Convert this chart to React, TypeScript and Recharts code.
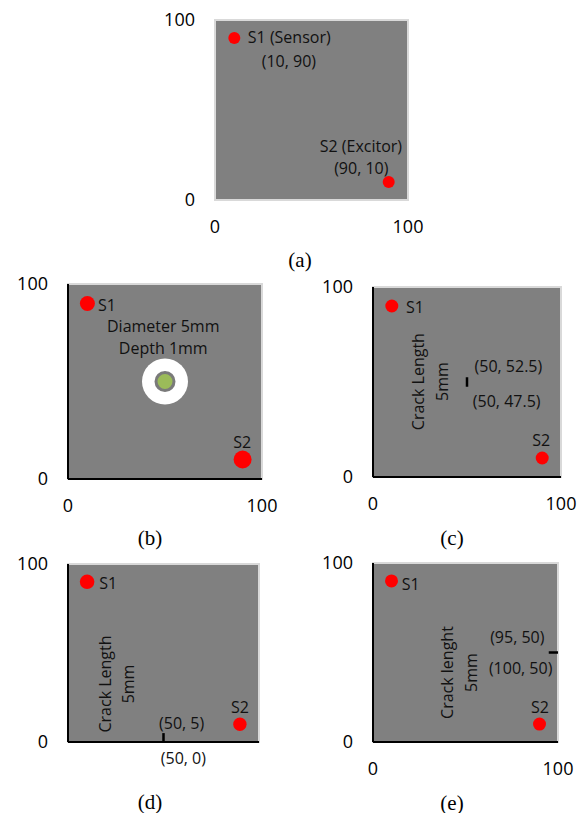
import React from "react";
import {
  ScatterChart,
  Scatter,
  XAxis,
  YAxis,
  ReferenceArea,
  ReferenceLine,
} from "recharts";

type Pt = { x: number; y: number };
type Note = {
  x: number;
  y: number;
  text: string;
  anchor?: "start" | "middle" | "end";
  rotate?: boolean;
  dy?: number;
};

const axisTicks = [0, 100];

// sensor positions (same plate for all five cases)
const sensorPoints: Pt[] = [
  { x: 10, y: 90 },
  { x: 90, y: 10 },
];

const holeCenter: Pt[] = [{ x: 50, y: 50 }];

const crackC: Pt[] = [
  { x: 50, y: 47.5 },
  { x: 50, y: 52.5 },
];
const crackD: Pt[] = [
  { x: 50, y: 0 },
  { x: 50, y: 5 },
];
const crackE: Pt[] = [
  { x: 95, y: 50 },
  { x: 100, y: 50 },
];

// text notes, placed in plate units
const notesA: Note[] = [
  { x: 17, y: 90.5, text: "S1 (Sensor)", anchor: "start" },
  { x: 38.3, y: 77.2, text: "(10, 90)" },
  { x: 75.6, y: 30, text: "S2 (Excitor)" },
  { x: 75.8, y: 17.8, text: "(90, 10)" },
];
const notesB: Note[] = [
  { x: 15.5, y: 89.2, text: "S1", anchor: "start" },
  { x: 49.1, y: 78.6, text: "Diameter 5mm" },
  { x: 49.1, y: 67.2, text: "Depth 1mm" },
  { x: 89.8, y: 19.1, text: "S2" },
];
const notesC: Note[] = [
  { x: 17.6, y: 89.6, text: "S1", anchor: "start" },
  { x: 89.5, y: 19.5, text: "S2" },
  { x: 72, y: 58.4, text: "(50, 52.5)" },
  { x: 71.1, y: 40, text: "(50, 47.5)" },
  { x: 24.1, y: 50.2, text: "Crack Length", rotate: true },
  { x: 36.5, y: 50.2, text: "5mm", rotate: true },
];
const notesD: Note[] = [
  { x: 16.4, y: 89.5, text: "S1", anchor: "start" },
  { x: 90, y: 19.8, text: "S2" },
  { x: 19.4, y: 32.6, text: "Crack Length", rotate: true },
  { x: 31.6, y: 32.6, text: "5mm", rotate: true },
  { x: 59.5, y: 10.8, text: "(50, 5)" },
  { x: 60.4, y: 0, text: "(50, 0)", dy: 16 },
];
const notesE: Note[] = [
  { x: 15.5, y: 88.3, text: "S1", anchor: "start" },
  { x: 90.3, y: 19.7, text: "S2" },
  { x: 78, y: 58.8, text: "(95, 50)" },
  { x: 79.8, y: 41.2, text: "(100, 50)" },
  { x: 39.8, y: 38.8, text: "Crack lenght", rotate: true },
  { x: 52.8, y: 38.8, text: "5mm", rotate: true },
];

const FONT = "'Open Sans', 'DejaVu Sans', sans-serif";
const PLATE = "#808080";
const EDGE = "#d9d9d9";

const renderNote = (p: any) => {
  const n: Note = p.payload;
  const cx = p.cx;
  const cy = p.cy + (n.dy || 0);
  return (
    <text
      x={cx}
      y={cy}
      textAnchor={n.anchor || "middle"}
      dominantBaseline="central"
      fontSize={16}
      fontFamily={FONT}
      fill="#111"
      transform={n.rotate ? `rotate(-90 ${cx} ${cy})` : undefined}
    >
      {n.text}
    </text>
  );
};

const renderHole = (p: any) => (
  <g>
    <circle cx={p.cx} cy={p.cy} r={23} fill="#ffffff" />
    <circle cx={p.cx} cy={p.cy} r={9} fill="#9bbb59" stroke="#7a7a7a" strokeWidth={3} />
  </g>
);

const dotShape = (r: number) => (p: any) =>
  <circle cx={p.cx} cy={p.cy} r={r} fill="#ff0000" />;

type PanelProps = {
  left: number;
  top: number;
  w: number;
  h: number;
  notes: Note[];
  dotR: number[];
  crack?: Pt[];
  hole?: boolean;
  axisLines?: boolean;
  xTicks?: boolean;
};

function Panel({ left, top, w, h, notes, dotR, crack, hole, axisLines = true, xTicks = true }: PanelProps) {
  const tick = { fill: "#000", fontSize: 18, fontFamily: FONT };
  const axisLine = axisLines ? { stroke: "#000", strokeWidth: 2 } : false;
  return (
    <div style={{ position: "absolute", left: left - 70, top: top - 20 }}>
      <ScatterChart
        width={w + 90}
        height={h + 60}
        margin={{ top: 20, right: 20, left: 20, bottom: 10 }}
      >
        <ReferenceArea
          x1={0}
          x2={100}
          y1={0}
          y2={100}
          fill={PLATE}
          fillOpacity={1}
          stroke={EDGE}
          strokeWidth={2}
        />
        <XAxis
          type="number"
          dataKey="x"
          domain={[0, 100]}
          ticks={axisTicks}
          tick={xTicks ? tick : false}
          tickLine={false}
          tickSize={0}
          tickMargin={20}
          axisLine={axisLine}
          height={30}
        />
        <YAxis
          type="number"
          dataKey="y"
          domain={[0, 100]}
          ticks={axisTicks}
          tick={tick}
          tickLine={false}
          tickSize={0}
          tickMargin={20}
          axisLine={axisLine}
          width={50}
        />
        {crack && (
          <ReferenceLine
            segment={crack}
            stroke="#000"
            strokeWidth={2.5}
          />
        )}
        {hole && (
          <Scatter data={holeCenter} shape={renderHole} isAnimationActive={false} />
        )}
        {sensorPoints.map((pt, i) => (
          <Scatter
            key={i}
            data={[pt]}
            shape={dotShape(dotR[i])}
            isAnimationActive={false}
          />
        ))}
        <Scatter data={notes} shape={renderNote} isAnimationActive={false} />
      </ScatterChart>
    </div>
  );
}

const captionStyle = (x: number, y: number): React.CSSProperties => ({
  position: "absolute",
  left: x,
  top: y,
  transform: "translate(-50%, -50%)",
  fontFamily: "'Liberation Serif', 'Times New Roman', serif",
  fontSize: 21,
  color: "#000",
  lineHeight: 1,
});

export default function App() {
  return (
    <div
      style={{
        position: "absolute",
        left: 0,
        top: 0,
        width: 584,
        height: 813,
        background: "#fff",
        overflow: "hidden",
      }}
    >
      <Panel left={215} top={20} w={193} h={180} notes={notesA} dotR={[6, 6]} axisLines={false} />
      <Panel left={68} top={284} w={194} h={195} notes={notesB} dotR={[7.5, 9]} hole />
      <Panel left={373} top={287} w={188} h={190} notes={notesC} dotR={[6.5, 6.5]} crack={crackC} />
      <Panel left={68} top={564} w={191} h={178} notes={notesD} dotR={[7.3, 6.7]} crack={crackD} xTicks={false} />
      <Panel left={373} top={563} w={185} h={179} notes={notesE} dotR={[6.5, 6.5]} crack={crackE} />
      <div style={captionStyle(300, 260)}>(a)</div>
      <div style={captionStyle(150, 538)}>(b)</div>
      <div style={captionStyle(452, 538)}>(c)</div>
      <div style={captionStyle(150, 802)}>(d)</div>
      <div style={captionStyle(452, 803)}>(e)</div>
    </div>
  );
}
